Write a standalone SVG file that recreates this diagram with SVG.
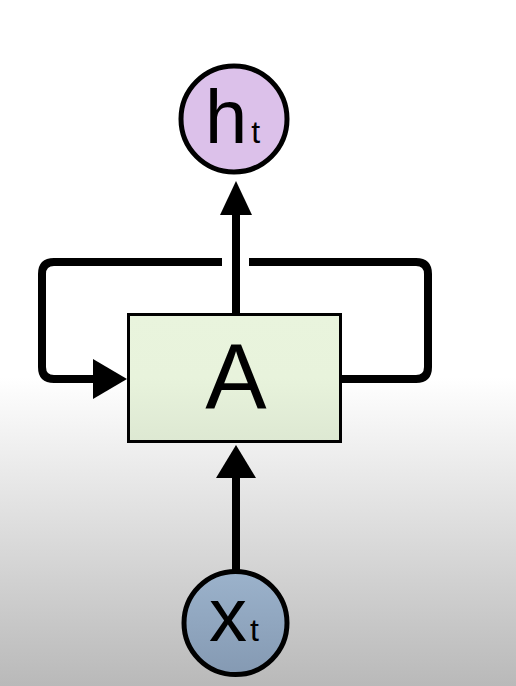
<svg xmlns="http://www.w3.org/2000/svg" width="516" height="686" viewBox="0 0 516 686">
  <defs>
    <linearGradient id="bg" x1="0" y1="0" x2="0" y2="686" gradientUnits="userSpaceOnUse">
      <stop offset="0" stop-color="#ffffff"/>
      <stop offset="0.55" stop-color="#ffffff"/>
      <stop offset="0.75" stop-color="#e0e0e0"/>
      <stop offset="1" stop-color="#b9b9b9"/>
    </linearGradient>
    <linearGradient id="xfill" x1="0" y1="569" x2="0" y2="677" gradientUnits="userSpaceOnUse">
      <stop offset="0" stop-color="#9cb3cc"/>
      <stop offset="1" stop-color="#8499b2"/>
    </linearGradient>
    <linearGradient id="afill" x1="0" y1="313" x2="0" y2="442" gradientUnits="userSpaceOnUse">
      <stop offset="0" stop-color="#e9f4dd"/>
      <stop offset="0.5" stop-color="#e8f3dc"/>
      <stop offset="1" stop-color="#dde8d2"/>
    </linearGradient>
  </defs>
  <style>
    .edge { fill: none; stroke: #000; stroke-width: 8; }
    .head { fill: #000; }
    .node { stroke: #000; }
    .lbl { font-family: "Liberation Sans", Arial, sans-serif; fill: #000; }
    .sub { font-size: 32px; }
  </style>
  <rect x="0" y="0" width="516" height="686" fill="url(#bg)"/>

  <g id="connectors">
    <path class="edge" d="M342,379 H416 Q428,379 428,367 V274 Q428,262 416,262 H249"/>
    <path class="edge" d="M222,262 H54 Q42,262 42,274 V367 Q42,379 54,379 H95"/>
    <polygon class="head" points="93,359 127,379 93,399"/>
    <line class="edge" x1="236" y1="313" x2="236" y2="213"/>
    <polygon class="head" points="220,215 236,181 252,215"/>
    <line class="edge" x1="236" y1="570" x2="236" y2="476"/>
    <polygon class="head" points="216,478 236,445 256,478"/>
  </g>

  <g id="node-A">
    <rect class="node" x="128.5" y="314.5" width="212" height="127" fill="url(#afill)" stroke-width="3"/>
    <text class="lbl" x="236" y="409" font-size="92" text-anchor="middle">A</text>
  </g>

  <g id="node-h">
    <circle class="node" cx="234" cy="119" r="53" fill="#dcc1ea" stroke-width="5"/>
    <text class="lbl" x="205" y="143" font-size="76">h<tspan class="sub" dx="4">t</tspan></text>
  </g>

  <g id="node-x">
    <circle class="node" cx="235.5" cy="623" r="51.5" fill="url(#xfill)" stroke-width="5"/>
    <text class="lbl" x="209" y="641" font-size="76">x<tspan class="sub" dx="3">t</tspan></text>
  </g>
</svg>
